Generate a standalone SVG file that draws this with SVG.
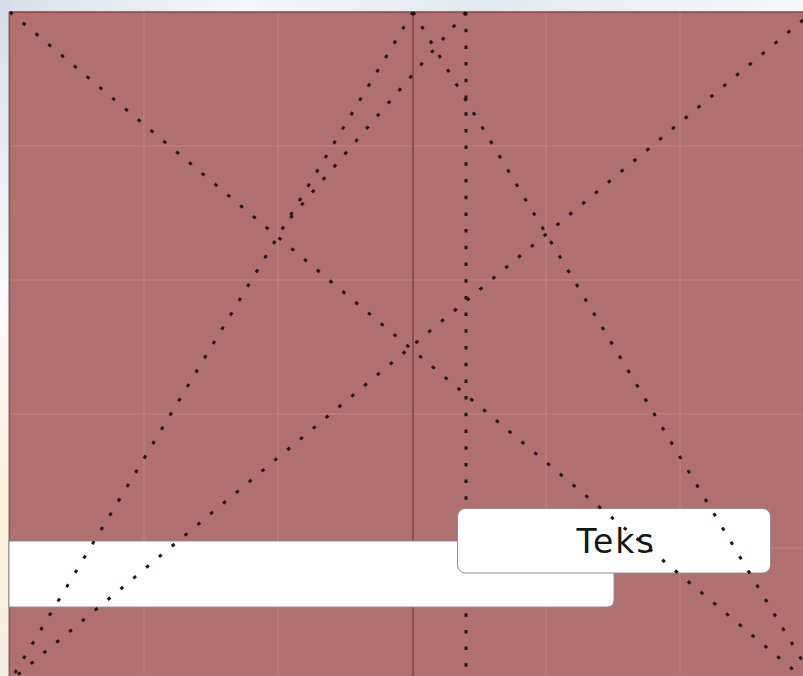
<svg xmlns="http://www.w3.org/2000/svg" width="803" height="676" viewBox="0 0 803 676">
  <defs>
    <linearGradient id="topbg" x1="0" y1="0" x2="1" y2="0">
      <stop offset="0" stop-color="#d9dfea"/>
      <stop offset="0.3" stop-color="#f4f6fa"/>
      <stop offset="0.6" stop-color="#e3e8f0"/>
      <stop offset="1" stop-color="#f6f7fa"/>
    </linearGradient>
    <linearGradient id="leftbg" x1="0" y1="0" x2="0" y2="1">
      <stop offset="0" stop-color="#d6dce8"/>
      <stop offset="0.45" stop-color="#fafafa"/>
      <stop offset="0.75" stop-color="#f8f2d8"/>
      <stop offset="1" stop-color="#f2ede0"/>
    </linearGradient>
    <style>
      .grid { stroke: #bc7e7e; stroke-width: 1.5; fill: none; }
      .dot { stroke: #2a1414; stroke-width: 3; stroke-dasharray: 3.5 13.2; fill: none; }
      .bar { fill: #ffffff; stroke: #8f8f8f; stroke-width: 1; }
      .label { font-family: "DejaVu Sans", sans-serif; font-size: 33px; letter-spacing: 2px; fill: #151515; }
    </style>
  </defs>

  <rect x="0" y="0" width="803" height="676" fill="#f7f8fa"/>
  <rect x="0" y="0" width="803" height="12" fill="url(#topbg)"/>
  <rect x="0" y="0" width="9" height="676" fill="url(#leftbg)"/>

  <g id="frame">
    <rect x="9" y="12" width="794" height="664" fill="#b07070"/>
    <line x1="9" y1="12" x2="803" y2="12" stroke="#7c4a4a" stroke-width="1.5"/>
    <line x1="9.5" y1="12" x2="9.5" y2="676" stroke="#8a6060" stroke-width="2"/>
  </g>

  <g id="grid">
    <line class="grid" x1="144" y1="13" x2="144" y2="676"/>
    <line class="grid" x1="278" y1="13" x2="278" y2="676"/>
    <line class="grid" x1="546" y1="13" x2="546" y2="676"/>
    <line class="grid" x1="680" y1="13" x2="680" y2="676"/>
    <line class="grid" x1="11" y1="146" x2="803" y2="146"/>
    <line class="grid" x1="11" y1="280" x2="803" y2="280"/>
    <line class="grid" x1="11" y1="414" x2="803" y2="414"/>
    <line class="grid" x1="11" y1="548" x2="803" y2="548"/>
    <line x1="413" y1="12" x2="413" y2="676" stroke="#7a4444" stroke-width="1.5"/>
    <line class="dot" x1="466" y1="12" x2="466" y2="676"/>
  </g>

  <g id="bar-wide">
    <path class="bar" d="M 9 541 H 614 V 600 Q 614 607 607 607 H 9 Z"/>
  </g>

  <g id="bar-teks">
    <rect class="bar" x="457.5" y="508.5" width="313" height="64.5" rx="8" ry="8"/>
    <text class="label" x="616" y="553" text-anchor="middle">Teks</text>
  </g>

  <g id="connectors">
    <line class="dot" x1="10" y1="12" x2="803" y2="678"/>
    <line class="dot" x1="803" y1="20" x2="15" y2="677"/>
    <line class="dot" x1="413" y1="12" x2="13" y2="676"/>
    <line class="dot" x1="466" y1="12" x2="287" y2="222"/>
    <line class="dot" x1="413" y1="12" x2="803" y2="662"/>
  </g>
</svg>
